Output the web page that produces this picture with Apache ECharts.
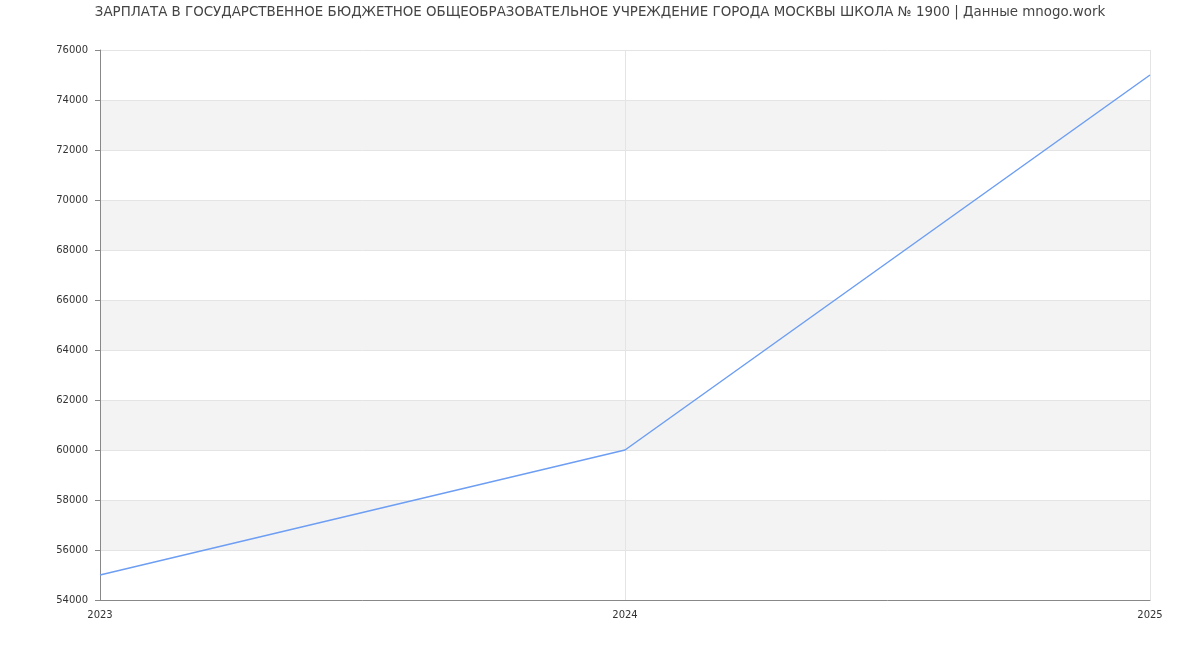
<!DOCTYPE html>
<html><head><meta charset="utf-8">
<script src="https://cdn.jsdelivr.net/npm/echarts@6/dist/echarts.min.js"></script>
<style>html,body{margin:0;padding:0;background:#fff}#c{width:1200px;height:650px}</style>
</head><body><div id="c"></div>
<script>
const titleText = 'ЗАРПЛАТА В ГОСУДАРСТВЕННОЕ БЮДЖЕТНОЕ ОБЩЕОБРАЗОВАТЕЛЬНОЕ УЧРЕЖДЕНИЕ ГОРОДА МОСКВЫ ШКОЛА № 1900 | Данные mnogo.work';
const years = [2023, 2024, 2025];
const salary = [55000, 60000, 75000];
const chart = echarts.init(document.getElementById('c'), null, {renderer:'canvas'});
chart.setOption({
  animation:false,
  textStyle:{fontFamily:'DejaVu Sans'},
  title:{text:titleText,left:'center',top:1,textStyle:{fontFamily:'DejaVu Sans',fontSize:13.4,fontWeight:'normal',color:'#444'}},
  grid:{left:100,right:50,top:50,bottom:50},
  xAxis:{type:'value',min:2023,max:2025,interval:1,
    axisLine:{show:true,lineStyle:{color:'#888'}},axisTick:{show:false},
    axisLabel:{color:'#333',fontSize:10,fontFamily:'DejaVu Sans',margin:10,formatter:v=>String(v)},
    splitLine:{show:true,lineStyle:{color:'#e4e4e4'}}},
  yAxis:{type:'value',min:54000,max:76000,interval:2000,
    axisLine:{show:true,lineStyle:{color:'#888'}},axisTick:{show:true,length:5,lineStyle:{color:'#888'}},
    axisLabel:{color:'#333',fontSize:10,fontFamily:'DejaVu Sans',margin:12,formatter:v=>String(v)},
    splitLine:{show:true,lineStyle:{color:'#e4e4e4'}},
    splitArea:{show:true,areaStyle:{color:['#ffffff','#f3f3f3']}}},
  series:[{type:'line',data:years.map((y,i)=>[y,salary[i]]),showSymbol:false,
    lineStyle:{color:'#6d9ef3',width:1.5},itemStyle:{color:'#6d9ef3'}}]
});
</script></body></html>
